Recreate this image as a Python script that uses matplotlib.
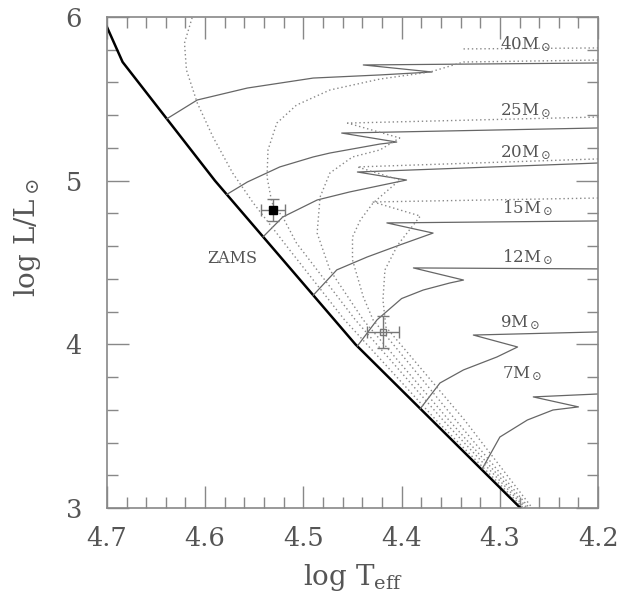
import numpy as np
import matplotlib.pyplot as plt
from matplotlib.ticker import MultipleLocator

plt.rcParams['font.family'] = ['DejaVu Serif']
plt.rcParams['mathtext.fontset'] = 'dejavuserif'

# zero-age main sequence
zams_t = [4.700, 4.684, 4.590, 4.447, 4.279]
zams_l = [5.94, 5.725, 5.00, 4.00, 3.00]

# evolutionary tracks (solid)
m40_t = [4.639, 4.608, 4.557, 4.490, 4.422, 4.369, 4.439, 4.200]
m40_l = [5.378, 5.493, 5.566, 5.627, 5.646, 5.664, 5.707, 5.719]
m25_t = [4.578, 4.557, 4.524, 4.490, 4.473, 4.422, 4.405, 4.461, 4.200]
m25_l = [4.916, 4.992, 5.084, 5.145, 5.169, 5.224, 5.236, 5.291, 5.322]
m20_t = [4.541, 4.521, 4.486, 4.453, 4.419, 4.395, 4.445, 4.200]
m20_l = [4.657, 4.778, 4.882, 4.931, 4.974, 5.004, 5.053, 5.108]
m15_t = [4.490, 4.466, 4.435, 4.402, 4.368, 4.415, 4.200]
m15_l = [4.300, 4.455, 4.534, 4.607, 4.680, 4.742, 4.754]
m12_t = [4.445, 4.425, 4.400, 4.378, 4.351, 4.337, 4.388, 4.200]
m12_l = [3.990, 4.150, 4.280, 4.332, 4.375, 4.393, 4.467, 4.461]
m9_t = [4.381, 4.361, 4.337, 4.303, 4.282, 4.327, 4.200]
m9_l = [3.607, 3.764, 3.844, 3.923, 3.984, 4.057, 4.076]
m7_t = [4.318, 4.300, 4.272, 4.246, 4.220, 4.266, 4.200]
m7_l = [3.240, 3.434, 3.538, 3.599, 3.618, 3.679, 3.697]

# isochrones (dotted)
iso1_t = [4.612, 4.621, 4.619, 4.608, 4.592, 4.572, 4.551, 4.514, 4.458, 4.365, 4.276]
iso1_l = [6.02, 5.841, 5.676, 5.475, 5.267, 5.047, 4.864, 4.577, 4.149, 3.538, 3.00]
iso1b_t = [4.337, 4.200]
iso1b_l = [5.805, 5.811]
iso2_t = [4.200, 4.337, 4.371, 4.422, 4.473, 4.507, 4.527, 4.536, 4.537, 4.532, 4.521,
          4.507, 4.447, 4.358, 4.274]
iso2_l = [5.737, 5.725, 5.664, 5.621, 5.554, 5.462, 5.352, 5.188, 5.023, 4.864, 4.778,
          4.619, 4.149, 3.538, 3.00]
iso3_t = [4.200, 4.455, 4.402, 4.422, 4.450, 4.473, 4.483, 4.486, 4.473, 4.439, 4.352, 4.272]
iso3_l = [5.389, 5.352, 5.261, 5.188, 5.145, 5.047, 4.900, 4.680, 4.455, 4.149, 3.538, 3.00]
iso4_t = [4.200, 4.445, 4.402, 4.429, 4.442, 4.450, 4.450, 4.439, 4.429, 4.345, 4.270]
iso4_l = [5.133, 5.084, 5.004, 4.864, 4.760, 4.656, 4.516, 4.290, 4.149, 3.538, 3.00]
iso5_t = [4.200, 4.429, 4.381, 4.404, 4.417, 4.419, 4.416, 4.336, 4.267]
iso5_l = [4.894, 4.870, 4.784, 4.607, 4.455, 4.271, 4.106, 3.538, 3.00]

# stars with error bars
star1_t, star1_l, star1_et, star1_el = 4.531, 4.821, 0.012, 0.07
star2_t, star2_l, star2_et, star2_el = 4.419, 4.076, 0.016, 0.10

mass_labels = ['40', '25', '20', '15', '12', '9', '7']
label_t = [4.300, 4.300, 4.300, 4.298, 4.298, 4.300, 4.298]
label_l = [5.80, 5.40, 5.145, 4.80, 4.50, 4.106, 3.795]

xticks = [4.7, 4.6, 4.5, 4.4, 4.3, 4.2]
yticks = [3, 4, 5, 6]

fig = plt.figure(figsize=(6.25, 6.07), dpi=100)
ax = fig.add_axes([0.171, 0.163, 0.786, 0.809])

grey = '#555555'
ax.plot(zams_t, zams_l, color='black', lw=1.8)
for t, l in [(m40_t, m40_l), (m25_t, m25_l), (m20_t, m20_l), (m15_t, m15_l),
             (m12_t, m12_l), (m9_t, m9_l), (m7_t, m7_l)]:
    ax.plot(t, l, color='#666666', lw=0.9)
for t, l in [(iso1_t, iso1_l), (iso1b_t, iso1b_l), (iso2_t, iso2_l), (iso3_t, iso3_l),
             (iso4_t, iso4_l), (iso5_t, iso5_l)]:
    ax.plot(t, l, color='#888888', lw=1.0, ls=(0, (1, 2)))

ax.errorbar(star1_t, star1_l, xerr=star1_et, yerr=star1_el, fmt='s', color='black',
            ecolor='#777777', elinewidth=1, capsize=4, ms=6)
ax.errorbar(star2_t, star2_l, xerr=star2_et, yerr=star2_el, fmt='s', mfc='none',
            mec='#777777', ecolor='#777777', elinewidth=1, capsize=4, ms=5)

for m, t, l in zip(mass_labels, label_t, label_l):
    ax.text(t, l, m + r'M$_\odot$', fontsize=12, color=grey, ha='left', va='baseline')
ax.text(4.598, 4.497, 'ZAMS', fontsize=11.5, color=grey, ha='left', va='baseline')

ax.set_xlim(4.7, 4.2)
ax.set_ylim(3, 6)
ax.set_xticks(xticks)
ax.set_xticklabels([str(v) for v in xticks])
ax.set_yticks(yticks)
ax.set_yticklabels([str(v) for v in yticks])
ax.xaxis.set_minor_locator(MultipleLocator(0.02))
ax.yaxis.set_minor_locator(MultipleLocator(0.2))
ax.tick_params(which='both', direction='in', top=True, right=True, color='#888888',
               labelcolor=grey, labelsize=18.5, width=1)
ax.tick_params(which='major', length=16)
ax.tick_params(which='minor', length=8)
ax.tick_params(axis='x', pad=13)
ax.tick_params(axis='y', pad=18)
for s in ax.spines.values():
    s.set_color('#888888')
    s.set_linewidth(1.2)

ax.set_xlabel(r'log T$_{\rm eff}$', fontsize=20, color=grey)
ax.set_ylabel(r'log L/L$_\odot$', fontsize=20, color=grey)
ax.yaxis.set_label_coords(-0.13, 0.55)
ax.xaxis.set_label_coords(0.5, -0.11)

fig.savefig('out.png', dpi=100)
